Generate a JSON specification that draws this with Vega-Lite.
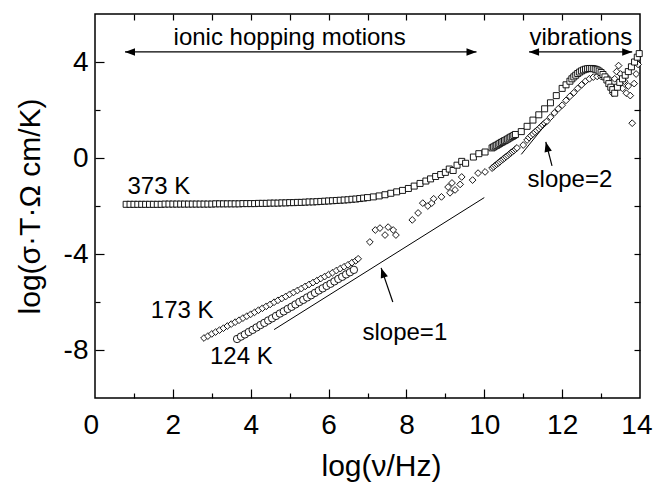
{
  "$schema": "https://vega.github.io/schema/vega-lite/v6.json",
  "width": 545,
  "height": 384,
  "autosize": {"type": "none"},
  "padding": {"left": 95, "top": 14, "right": 14, "bottom": 86},
  "background": "white",
  "config": {
    "view": {"stroke": "black", "strokeWidth": 1.5},
    "font": "Liberation Sans",
    "axis": {
      "domain": false,
      "grid": false,
      "labelFont": "Liberation Sans",
      "titleFont": "Liberation Sans",
      "labelColor": "black",
      "titleColor": "black",
      "tickColor": "black",
      "tickWidth": 1.2,
      "labelFontSize": 28,
      "titleFontSize": 30,
      "titleFontWeight": "normal",
      "labelFlush": false,
      "labelOverlap": false
    }
  },
  "datasets": {
    "pts": [
      {"series": "173 K", "x": 2.8, "y": -7.5}, {"series": "173 K", "x": 2.9, "y": -7.42}, {"series": "173 K", "x": 3.0, "y": -7.33}, {"series": "173 K", "x": 3.1, "y": -7.25}, {"series": "173 K", "x": 3.2, "y": -7.17}, {"series": "173 K", "x": 3.3, "y": -7.09}, {"series": "173 K", "x": 3.4, "y": -7.0}, {"series": "173 K", "x": 3.5, "y": -6.92}, {"series": "173 K", "x": 3.6, "y": -6.84}, {"series": "173 K", "x": 3.7, "y": -6.76}, {"series": "173 K", "x": 3.8, "y": -6.67}, {"series": "173 K", "x": 3.9, "y": -6.59}, {"series": "173 K", "x": 4.0, "y": -6.51}, {"series": "173 K", "x": 4.1, "y": -6.43}, {"series": "173 K", "x": 4.2, "y": -6.34}, {"series": "173 K", "x": 4.3, "y": -6.26}, {"series": "173 K", "x": 4.4, "y": -6.18}, {"series": "173 K", "x": 4.5, "y": -6.1}, {"series": "173 K", "x": 4.6, "y": -6.01}, {"series": "173 K", "x": 4.7, "y": -5.93}, {"series": "173 K", "x": 4.8, "y": -5.85}, {"series": "173 K", "x": 4.9, "y": -5.77}, {"series": "173 K", "x": 5.0, "y": -5.68}, {"series": "173 K", "x": 5.1, "y": -5.6}, {"series": "173 K", "x": 5.2, "y": -5.52}, {"series": "173 K", "x": 5.3, "y": -5.44}, {"series": "173 K", "x": 5.4, "y": -5.35}, {"series": "173 K", "x": 5.5, "y": -5.27}, {"series": "173 K", "x": 5.6, "y": -5.19}, {"series": "173 K", "x": 5.7, "y": -5.11}, {"series": "173 K", "x": 5.8, "y": -5.02}, {"series": "173 K", "x": 5.9, "y": -4.94}, {"series": "173 K", "x": 6.0, "y": -4.86}, {"series": "173 K", "x": 6.1, "y": -4.78}, {"series": "173 K", "x": 6.2, "y": -4.69}, {"series": "173 K", "x": 6.3, "y": -4.61}, {"series": "173 K", "x": 6.4, "y": -4.53}, {"series": "173 K", "x": 6.5, "y": -4.45}, {"series": "173 K", "x": 6.6, "y": -4.36}, {"series": "173 K", "x": 6.7, "y": -4.28}, {"series": "173 K", "x": 6.76, "y": -4.2},
      {"series": "173 K", "x": 7.06, "y": -3.5}, {"series": "173 K", "x": 7.2, "y": -3.0}, {"series": "173 K", "x": 7.32, "y": -2.92}, {"series": "173 K", "x": 7.45, "y": -3.21}, {"series": "173 K", "x": 7.53, "y": -2.88}, {"series": "173 K", "x": 7.66, "y": -3.0}, {"series": "173 K", "x": 7.73, "y": -3.21}, {"series": "173 K", "x": 8.15, "y": -2.58}, {"series": "173 K", "x": 8.3, "y": -2.29}, {"series": "173 K", "x": 8.42, "y": -1.88}, {"series": "173 K", "x": 8.55, "y": -2.0}, {"series": "173 K", "x": 8.65, "y": -1.88}, {"series": "173 K", "x": 8.7, "y": -1.7}, {"series": "173 K", "x": 8.9, "y": -1.62}, {"series": "173 K", "x": 9.07, "y": -1.21}, {"series": "173 K", "x": 9.12, "y": -1.45}, {"series": "173 K", "x": 9.17, "y": -1.04}, {"series": "173 K", "x": 9.25, "y": -1.33}, {"series": "173 K", "x": 9.38, "y": -1.1}, {"series": "173 K", "x": 9.42, "y": -0.79}, {"series": "173 K", "x": 9.7, "y": -0.92}, {"series": "173 K", "x": 9.84, "y": -0.63}, {"series": "173 K", "x": 10.02, "y": -0.58},
      {"series": "173 K", "x": 10.2, "y": -0.42}, {"series": "173 K", "x": 10.24, "y": -0.37}, {"series": "173 K", "x": 10.28, "y": -0.31}, {"series": "173 K", "x": 10.32, "y": -0.26}, {"series": "173 K", "x": 10.36, "y": -0.21}, {"series": "173 K", "x": 10.4, "y": -0.16}, {"series": "173 K", "x": 10.44, "y": -0.1}, {"series": "173 K", "x": 10.48, "y": -0.05}, {"series": "173 K", "x": 10.52, "y": 0.0}, {"series": "173 K", "x": 10.56, "y": 0.05}, {"series": "173 K", "x": 10.6, "y": 0.1}, {"series": "173 K", "x": 10.64, "y": 0.16}, {"series": "173 K", "x": 10.68, "y": 0.21}, {"series": "173 K", "x": 10.72, "y": 0.26}, {"series": "173 K", "x": 10.76, "y": 0.31}, {"series": "173 K", "x": 10.8, "y": 0.37}, {"series": "173 K", "x": 10.84, "y": 0.42},
      {"series": "173 K", "x": 11.0, "y": 0.54}, {"series": "173 K", "x": 11.1, "y": 0.75}, {"series": "173 K", "x": 11.15, "y": 0.85}, {"series": "173 K", "x": 11.2, "y": 0.93}, {"series": "173 K", "x": 11.25, "y": 1.0}, {"series": "173 K", "x": 11.3, "y": 1.08}, {"series": "173 K", "x": 11.35, "y": 1.15}, {"series": "173 K", "x": 11.4, "y": 1.22}, {"series": "173 K", "x": 11.45, "y": 1.3}, {"series": "173 K", "x": 11.5, "y": 1.38}, {"series": "173 K", "x": 11.55, "y": 1.45}, {"series": "173 K", "x": 11.6, "y": 1.52}, {"series": "173 K", "x": 11.7, "y": 1.7}, {"series": "173 K", "x": 11.8, "y": 1.88}, {"series": "173 K", "x": 11.9, "y": 2.05}, {"series": "173 K", "x": 12.0, "y": 2.2}, {"series": "173 K", "x": 12.1, "y": 2.4}, {"series": "173 K", "x": 12.2, "y": 2.57}, {"series": "173 K", "x": 12.3, "y": 2.72}, {"series": "173 K", "x": 12.4, "y": 2.9}, {"series": "173 K", "x": 12.5, "y": 3.05}, {"series": "173 K", "x": 12.6, "y": 3.2}, {"series": "173 K", "x": 12.7, "y": 3.3}, {"series": "173 K", "x": 12.8, "y": 3.37}, {"series": "173 K", "x": 12.9, "y": 3.4}, {"series": "173 K", "x": 13.0, "y": 3.4}, {"series": "173 K", "x": 13.1, "y": 3.38}, {"series": "173 K", "x": 13.2, "y": 3.3},
      {"series": "173 K", "x": 13.25, "y": 3.0}, {"series": "173 K", "x": 13.3, "y": 2.7}, {"series": "173 K", "x": 13.35, "y": 3.3}, {"series": "173 K", "x": 13.4, "y": 3.6}, {"series": "173 K", "x": 13.45, "y": 3.85}, {"series": "173 K", "x": 13.5, "y": 3.5}, {"series": "173 K", "x": 13.55, "y": 2.9}, {"series": "173 K", "x": 13.6, "y": 3.2}, {"series": "173 K", "x": 13.65, "y": 2.7}, {"series": "173 K", "x": 13.7, "y": 3.0}, {"series": "173 K", "x": 13.75, "y": 2.6}, {"series": "173 K", "x": 13.8, "y": 1.45}, {"series": "173 K", "x": 13.85, "y": 3.1}, {"series": "173 K", "x": 13.9, "y": 3.5}, {"series": "173 K", "x": 13.95, "y": 3.9},
      {"series": "124 K", "x": 3.65, "y": -7.54}, {"series": "124 K", "x": 3.75, "y": -7.44}, {"series": "124 K", "x": 3.85, "y": -7.35}, {"series": "124 K", "x": 3.95, "y": -7.25}, {"series": "124 K", "x": 4.05, "y": -7.16}, {"series": "124 K", "x": 4.15, "y": -7.06}, {"series": "124 K", "x": 4.25, "y": -6.96}, {"series": "124 K", "x": 4.35, "y": -6.87}, {"series": "124 K", "x": 4.45, "y": -6.77}, {"series": "124 K", "x": 4.55, "y": -6.68}, {"series": "124 K", "x": 4.65, "y": -6.58}, {"series": "124 K", "x": 4.75, "y": -6.48}, {"series": "124 K", "x": 4.85, "y": -6.39}, {"series": "124 K", "x": 4.95, "y": -6.29}, {"series": "124 K", "x": 5.05, "y": -6.2}, {"series": "124 K", "x": 5.15, "y": -6.1}, {"series": "124 K", "x": 5.25, "y": -6.0}, {"series": "124 K", "x": 5.35, "y": -5.91}, {"series": "124 K", "x": 5.45, "y": -5.81}, {"series": "124 K", "x": 5.55, "y": -5.72}, {"series": "124 K", "x": 5.65, "y": -5.62}, {"series": "124 K", "x": 5.75, "y": -5.52}, {"series": "124 K", "x": 5.85, "y": -5.43}, {"series": "124 K", "x": 5.95, "y": -5.33}, {"series": "124 K", "x": 6.05, "y": -5.24}, {"series": "124 K", "x": 6.15, "y": -5.14}, {"series": "124 K", "x": 6.25, "y": -5.04}, {"series": "124 K", "x": 6.35, "y": -4.95}, {"series": "124 K", "x": 6.45, "y": -4.85}, {"series": "124 K", "x": 6.55, "y": -4.76}, {"series": "124 K", "x": 6.65, "y": -4.66},
      {"series": "373 K", "x": 0.8, "y": -1.93}, {"series": "373 K", "x": 0.9, "y": -1.93}, {"series": "373 K", "x": 1.0, "y": -1.93}, {"series": "373 K", "x": 1.1, "y": -1.93}, {"series": "373 K", "x": 1.2, "y": -1.93}, {"series": "373 K", "x": 1.3, "y": -1.93}, {"series": "373 K", "x": 1.4, "y": -1.93}, {"series": "373 K", "x": 1.5, "y": -1.93}, {"series": "373 K", "x": 1.6, "y": -1.93}, {"series": "373 K", "x": 1.7, "y": -1.93},
      {"series": "373 K", "x": 1.8, "y": -1.92}, {"series": "373 K", "x": 1.9, "y": -1.92}, {"series": "373 K", "x": 2.0, "y": -1.92}, {"series": "373 K", "x": 2.1, "y": -1.92}, {"series": "373 K", "x": 2.2, "y": -1.92}, {"series": "373 K", "x": 2.3, "y": -1.92}, {"series": "373 K", "x": 2.4, "y": -1.92}, {"series": "373 K", "x": 2.5, "y": -1.92}, {"series": "373 K", "x": 2.6, "y": -1.92}, {"series": "373 K", "x": 2.7, "y": -1.92}, {"series": "373 K", "x": 2.8, "y": -1.92}, {"series": "373 K", "x": 2.9, "y": -1.92}, {"series": "373 K", "x": 3.0, "y": -1.92},
      {"series": "373 K", "x": 3.1, "y": -1.91}, {"series": "373 K", "x": 3.2, "y": -1.91}, {"series": "373 K", "x": 3.3, "y": -1.91}, {"series": "373 K", "x": 3.4, "y": -1.91}, {"series": "373 K", "x": 3.5, "y": -1.91}, {"series": "373 K", "x": 3.6, "y": -1.91}, {"series": "373 K", "x": 3.7, "y": -1.91}, {"series": "373 K", "x": 3.8, "y": -1.9}, {"series": "373 K", "x": 3.9, "y": -1.9}, {"series": "373 K", "x": 4.0, "y": -1.9}, {"series": "373 K", "x": 4.1, "y": -1.9},
      {"series": "373 K", "x": 4.2, "y": -1.89}, {"series": "373 K", "x": 4.3, "y": -1.89}, {"series": "373 K", "x": 4.4, "y": -1.89}, {"series": "373 K", "x": 4.5, "y": -1.88}, {"series": "373 K", "x": 4.6, "y": -1.88}, {"series": "373 K", "x": 4.7, "y": -1.88}, {"series": "373 K", "x": 4.8, "y": -1.87}, {"series": "373 K", "x": 4.9, "y": -1.87}, {"series": "373 K", "x": 5.0, "y": -1.86}, {"series": "373 K", "x": 5.1, "y": -1.86}, {"series": "373 K", "x": 5.2, "y": -1.85}, {"series": "373 K", "x": 5.3, "y": -1.85}, {"series": "373 K", "x": 5.4, "y": -1.84}, {"series": "373 K", "x": 5.5, "y": -1.83}, {"series": "373 K", "x": 5.6, "y": -1.83}, {"series": "373 K", "x": 5.7, "y": -1.82}, {"series": "373 K", "x": 5.8, "y": -1.81}, {"series": "373 K", "x": 5.9, "y": -1.8}, {"series": "373 K", "x": 6.0, "y": -1.79}, {"series": "373 K", "x": 6.1, "y": -1.78}, {"series": "373 K", "x": 6.2, "y": -1.77}, {"series": "373 K", "x": 6.3, "y": -1.76}, {"series": "373 K", "x": 6.4, "y": -1.75}, {"series": "373 K", "x": 6.5, "y": -1.74}, {"series": "373 K", "x": 6.6, "y": -1.72}, {"series": "373 K", "x": 6.7, "y": -1.71}, {"series": "373 K", "x": 6.8, "y": -1.69}, {"series": "373 K", "x": 6.9, "y": -1.67},
      {"series": "373 K", "x": 7.0, "y": -1.65}, {"series": "373 K", "x": 7.15, "y": -1.62}, {"series": "373 K", "x": 7.3, "y": -1.58}, {"series": "373 K", "x": 7.45, "y": -1.53}, {"series": "373 K", "x": 7.6, "y": -1.47}, {"series": "373 K", "x": 7.75, "y": -1.41}, {"series": "373 K", "x": 7.9, "y": -1.35}, {"series": "373 K", "x": 8.05, "y": -1.27}, {"series": "373 K", "x": 8.2, "y": -1.17}, {"series": "373 K", "x": 8.35, "y": -1.06}, {"series": "373 K", "x": 8.5, "y": -0.96}, {"series": "373 K", "x": 8.62, "y": -0.87}, {"series": "373 K", "x": 8.75, "y": -0.77}, {"series": "373 K", "x": 8.88, "y": -0.69}, {"series": "373 K", "x": 9.0, "y": -0.6}, {"series": "373 K", "x": 9.1, "y": -0.46}, {"series": "373 K", "x": 9.2, "y": -0.52}, {"series": "373 K", "x": 9.3, "y": -0.3}, {"series": "373 K", "x": 9.42, "y": -0.14}, {"series": "373 K", "x": 9.52, "y": -0.22}, {"series": "373 K", "x": 9.72, "y": 0.04}, {"series": "373 K", "x": 9.86, "y": 0.18}, {"series": "373 K", "x": 10.02, "y": 0.25},
      {"series": "373 K", "x": 10.2, "y": 0.42}, {"series": "373 K", "x": 10.24, "y": 0.46}, {"series": "373 K", "x": 10.28, "y": 0.5}, {"series": "373 K", "x": 10.32, "y": 0.53}, {"series": "373 K", "x": 10.36, "y": 0.57}, {"series": "373 K", "x": 10.4, "y": 0.61}, {"series": "373 K", "x": 10.44, "y": 0.65}, {"series": "373 K", "x": 10.48, "y": 0.68}, {"series": "373 K", "x": 10.52, "y": 0.72}, {"series": "373 K", "x": 10.56, "y": 0.75}, {"series": "373 K", "x": 10.6, "y": 0.79}, {"series": "373 K", "x": 10.64, "y": 0.83}, {"series": "373 K", "x": 10.68, "y": 0.87}, {"series": "373 K", "x": 10.72, "y": 0.9}, {"series": "373 K", "x": 10.76, "y": 0.94}, {"series": "373 K", "x": 10.8, "y": 0.98},
      {"series": "373 K", "x": 10.95, "y": 1.1}, {"series": "373 K", "x": 11.1, "y": 1.32}, {"series": "373 K", "x": 11.25, "y": 1.58}, {"series": "373 K", "x": 11.4, "y": 1.8}, {"series": "373 K", "x": 11.55, "y": 2.05}, {"series": "373 K", "x": 11.7, "y": 2.3}, {"series": "373 K", "x": 11.85, "y": 2.6}, {"series": "373 K", "x": 12.0, "y": 2.9}, {"series": "373 K", "x": 12.1, "y": 3.05}, {"series": "373 K", "x": 12.2, "y": 3.2},
      {"series": "373 K", "x": 12.25, "y": 3.3}, {"series": "373 K", "x": 12.3, "y": 3.38}, {"series": "373 K", "x": 12.35, "y": 3.45}, {"series": "373 K", "x": 12.4, "y": 3.52}, {"series": "373 K", "x": 12.45, "y": 3.58}, {"series": "373 K", "x": 12.5, "y": 3.63}, {"series": "373 K", "x": 12.55, "y": 3.67}, {"series": "373 K", "x": 12.6, "y": 3.7}, {"series": "373 K", "x": 12.65, "y": 3.72}, {"series": "373 K", "x": 12.7, "y": 3.73}, {"series": "373 K", "x": 12.75, "y": 3.73}, {"series": "373 K", "x": 12.8, "y": 3.72}, {"series": "373 K", "x": 12.85, "y": 3.7}, {"series": "373 K", "x": 12.9, "y": 3.67}, {"series": "373 K", "x": 12.95, "y": 3.62}, {"series": "373 K", "x": 13.0, "y": 3.56}, {"series": "373 K", "x": 13.05, "y": 3.48}, {"series": "373 K", "x": 13.1, "y": 3.38}, {"series": "373 K", "x": 13.15, "y": 3.25}, {"series": "373 K", "x": 13.2, "y": 3.1}, {"series": "373 K", "x": 13.25, "y": 2.95},
      {"series": "373 K", "x": 13.3, "y": 2.85}, {"series": "373 K", "x": 13.35, "y": 2.7}, {"series": "373 K", "x": 13.42, "y": 2.95}, {"series": "373 K", "x": 13.48, "y": 3.15}, {"series": "373 K", "x": 13.55, "y": 3.3}, {"series": "373 K", "x": 13.62, "y": 3.45}, {"series": "373 K", "x": 13.7, "y": 3.6}, {"series": "373 K", "x": 13.78, "y": 3.8}, {"series": "373 K", "x": 13.86, "y": 4.0}, {"series": "373 K", "x": 13.93, "y": 4.2}, {"series": "373 K", "x": 13.98, "y": 4.35}
    ],
    "slopeLines": [
      {"x": 4.6, "y": -7.15, "x2": 10.0, "y2": -1.65},
      {"x": 10.95, "y": 0.15, "x2": 11.6, "y2": 1.45}
    ],
    "labels": [
      {"text": "ionic hopping motions", "x": 5.0, "y": 5.0},
      {"text": "vibrations", "x": 12.48, "y": 5.0},
      {"text": "373 K", "x": 1.64, "y": -1.2},
      {"text": "173 K", "x": 2.24, "y": -6.38},
      {"text": "124 K", "x": 3.76, "y": -8.3},
      {"text": "slope=1", "x": 7.96, "y": -7.3},
      {"text": "slope=2", "x": 12.2, "y": -0.9}
    ],
    "spans": [
      {"x": 0.77, "x2": 9.8, "y": 4.42},
      {"x": 11.15, "x2": 13.8, "y": 4.42}
    ],
    "pointers": [
      {"x": 7.65, "y": -6.0, "x2": 7.35, "y2": -4.58},
      {"x": 11.74, "y": -0.33, "x2": 11.58, "y2": 0.67}
    ],
    "tip1": [{"x": 7.35, "y": -4.58}],
    "tip2": [{"x": 11.58, "y": 0.67}]
  },
  "layer": [
    {
      "data": {"name": "pts"},
      "mark": {"type": "point", "filled": true, "fill": "white", "stroke": "black", "strokeWidth": 0.9, "opacity": 1},
      "encoding": {
        "x": {"field": "x", "type": "quantitative", "scale": {"domain": [0, 14], "nice": false, "zero": false},
              "axis": {"orient": "bottom", "values": [0, 2, 4, 6, 8, 10, 12, 14], "ticks": false, "labelPadding": 13,
                       "labelFlush": true, "labelFlushOffset": 12,
                       "title": "log(ν/Hz)", "titleX": 286, "titleY": 68, "titleBaseline": "middle", "titleAlign": "center"}},
        "y": {"field": "y", "type": "quantitative", "scale": {"domain": [-10, 6], "nice": false, "zero": false},
              "axis": {"orient": "left", "values": [-8, -4, 0, 4], "ticks": false, "labelPadding": 7,
                       "labelExpr": "datum.value < 0 ? '-' + abs(datum.value) : datum.label",
                       "title": "log(σ·T·Ω cm/K)", "titleAngle": -90, "titleX": -65, "titleY": 192, "titleBaseline": "middle", "titleAlign": "center"}},
        "shape": {"field": "series", "type": "nominal", "scale": {"domain": ["373 K", "173 K", "124 K"], "range": ["square", "diamond", "circle"]}, "legend": null},
        "size": {"field": "series", "type": "nominal", "scale": {"domain": ["373 K", "173 K", "124 K"], "range": [36, 55, 32]}, "legend": null}
      }
    },
    {
      "data": {"name": "slopeLines"},
      "mark": {"type": "rule", "color": "black", "strokeWidth": 1},
      "encoding": {
        "x": {"field": "x", "type": "quantitative", "scale": {"domain": [0, 14], "nice": false, "zero": false},
              "axis": {"orient": "top", "values": [1, 2, 3, 4, 5, 6, 7, 8, 9, 10, 11, 12, 13], "labels": false, "tickSize": -6, "title": null}},
        "y": {"field": "y", "type": "quantitative", "scale": {"domain": [-10, 6], "nice": false, "zero": false},
              "axis": {"orient": "right", "values": [-8, -6, -4, -2, 0, 2, 4], "labels": false, "tickSize": -6, "title": null}},
        "x2": {"field": "x2"},
        "y2": {"field": "y2"}
      }
    },
    {
      "data": {"name": "labels"},
      "mark": {"type": "text", "fontSize": 24, "font": "Liberation Sans", "color": "black", "align": "center", "baseline": "middle"},
      "encoding": {
        "x": {"field": "x", "type": "quantitative", "scale": {"domain": [0, 14], "nice": false, "zero": false},
              "axis": {"orient": "bottom", "values": [2, 4, 6, 8, 10, 12], "labels": false, "tickSize": -9, "title": null}},
        "y": {"field": "y", "type": "quantitative", "scale": {"domain": [-10, 6], "nice": false, "zero": false},
              "axis": {"orient": "left", "values": [-8, -4, 0, 4], "labels": false, "tickSize": -9, "title": null}},
        "text": {"field": "text", "type": "nominal"}
      }
    },
    {
      "data": {"name": "spans"},
      "mark": {"type": "rule", "color": "black", "strokeWidth": 1.2},
      "encoding": {
        "x": {"field": "x", "type": "quantitative", "scale": {"domain": [0, 14], "nice": false, "zero": false},
              "axis": {"orient": "bottom", "values": [1, 3, 5, 7, 9, 11, 13], "labels": false, "tickSize": -5, "title": null}},
        "y": {"field": "y", "type": "quantitative", "scale": {"domain": [-10, 6], "nice": false, "zero": false},
              "axis": {"orient": "left", "values": [-6, -2, 2], "labels": false, "tickSize": -5, "title": null}},
        "x2": {"field": "x2"}
      }
    },
    {
      "data": {"name": "spans"},
      "mark": {"type": "point", "shape": "M0,0L2,-0.75L2,0.75Z", "filled": true, "color": "black", "opacity": 1, "size": 100},
      "encoding": {
        "x": {"field": "x", "type": "quantitative", "scale": {"domain": [0, 14], "nice": false, "zero": false}, "axis": null},
        "y": {"field": "y", "type": "quantitative", "scale": {"domain": [-10, 6], "nice": false, "zero": false}, "axis": null}
      }
    },
    {
      "data": {"name": "spans"},
      "mark": {"type": "point", "shape": "M0,0L-2,-0.75L-2,0.75Z", "filled": true, "color": "black", "opacity": 1, "size": 100},
      "encoding": {
        "x": {"field": "x2", "type": "quantitative", "scale": {"domain": [0, 14], "nice": false, "zero": false}, "axis": null},
        "y": {"field": "y", "type": "quantitative", "scale": {"domain": [-10, 6], "nice": false, "zero": false}, "axis": null}
      }
    },
    {
      "data": {"name": "pointers"},
      "mark": {"type": "rule", "color": "black", "strokeWidth": 1.2},
      "encoding": {
        "x": {"field": "x", "type": "quantitative", "scale": {"domain": [0, 14], "nice": false, "zero": false}, "axis": null},
        "y": {"field": "y", "type": "quantitative", "scale": {"domain": [-10, 6], "nice": false, "zero": false}, "axis": null},
        "x2": {"field": "x2"},
        "y2": {"field": "y2"}
      }
    },
    {
      "data": {"name": "tip1"},
      "mark": {"type": "point", "shape": "M0,0L-0.75,2L0.75,2Z", "angle": -19, "filled": true, "color": "black", "opacity": 1, "size": 100},
      "encoding": {
        "x": {"field": "x", "type": "quantitative", "scale": {"domain": [0, 14], "nice": false, "zero": false}, "axis": null},
        "y": {"field": "y", "type": "quantitative", "scale": {"domain": [-10, 6], "nice": false, "zero": false}, "axis": null}
      }
    },
    {
      "data": {"name": "tip2"},
      "mark": {"type": "point", "shape": "M0,0L-0.75,2L0.75,2Z", "angle": -14, "filled": true, "color": "black", "opacity": 1, "size": 100},
      "encoding": {
        "x": {"field": "x", "type": "quantitative", "scale": {"domain": [0, 14], "nice": false, "zero": false}, "axis": null},
        "y": {"field": "y", "type": "quantitative", "scale": {"domain": [-10, 6], "nice": false, "zero": false}, "axis": null}
      }
    }
  ]
}
